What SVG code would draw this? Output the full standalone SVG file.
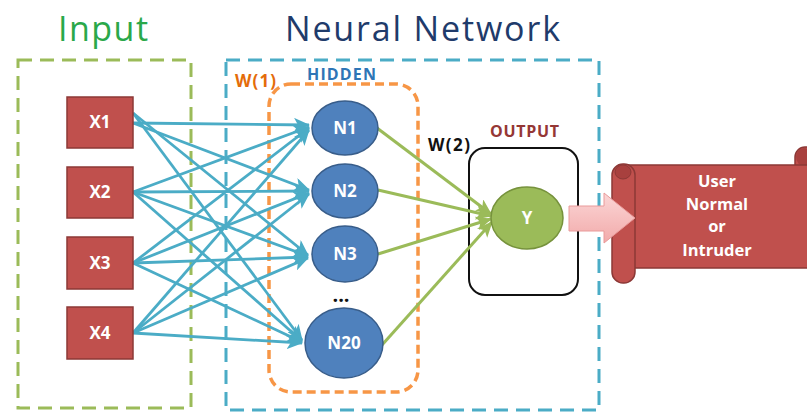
<svg xmlns="http://www.w3.org/2000/svg" width="807" height="412" viewBox="0 0 807 412">
  <style>
    .title { font-family: "Open Sans", "Liberation Sans", sans-serif; font-size: 34px; }
    .lbl { font-family: "Open Sans", "Liberation Sans", sans-serif; font-weight: bold; }
    .xbox { fill: #c0504d; stroke: #8c3836; stroke-width: 1.5; }
    .hnode { fill: #4f81bd; stroke: #385d8a; stroke-width: 1.5; }
    .wtxt { fill: #ffffff; font-size: 17px; text-anchor: middle; }
    .w1 { stroke: #4bacc6; stroke-width: 2.8; fill: none; marker-end: url(#headBlue); }
    .w2 { stroke: #9bbb59; stroke-width: 3; fill: none; marker-end: url(#headGreen); }
    .scroll-txt { fill: #ffffff; font-size: 16.5px; text-anchor: middle; }
  </style>
  <defs>
    <marker id="headBlue" markerUnits="userSpaceOnUse" markerWidth="16" markerHeight="14" refX="15" refY="7" orient="auto">
      <path d="M0,0 L16,7 L0,14 L4,7 Z" fill="#4bacc6"/>
    </marker>
    <marker id="headGreen" markerUnits="userSpaceOnUse" markerWidth="16" markerHeight="14" refX="15" refY="7" orient="auto">
      <path d="M0,0 L16,7 L0,14 L4,7 Z" fill="#9bbb59"/>
    </marker>
    <linearGradient id="pinkFill" x1="0" y1="0" x2="0" y2="1">
      <stop offset="0" stop-color="#fbd6d6"/>
      <stop offset="1" stop-color="#f2aaaa"/>
    </linearGradient>
  </defs>

  <rect width="807" height="412" fill="#ffffff"/>

  <!-- titles -->
  <text class="title" x="58" y="41" fill="#2aa84a" textLength="90">Input</text>
  <text class="title" x="285" y="41" fill="#1f3b6b" textLength="275">Neural Network</text>

  <!-- group frames -->
  <g id="input-frame">
    <rect x="18" y="60" width="173" height="348" fill="none" stroke="#9bbb59" stroke-width="3" stroke-dasharray="14 8"/>
  </g>
  <g id="network-frame">
    <rect x="226" y="60" width="373" height="350" fill="none" stroke="#4bacc6" stroke-width="3" stroke-dasharray="14 8"/>
  </g>
  <g id="hidden-frame">
    <rect x="269" y="84" width="149" height="308" rx="22" fill="none" stroke="#f79646" stroke-width="3.5" stroke-dasharray="9 5"/>
    <text class="lbl" x="235" y="87" font-size="17" fill="#e46c0a" textLength="41">W(1)</text>
    <text class="lbl" x="307" y="80" font-size="16" fill="#2e75b6" textLength="69">HIDDEN</text>
  </g>
  <g id="output-frame">
    <rect x="469" y="148" width="109" height="147" rx="16" fill="none" stroke="#111111" stroke-width="2"/>
    <text class="lbl" x="490" y="137" font-size="16" fill="#953735" textLength="69">OUTPUT</text>
    <text class="lbl" x="428" y="151" font-size="17" fill="#111111" textLength="42">W(2)</text>
  </g>

  <!-- weighted connections -->
  <g id="connectors">
    <line class="w1" x1="133" y1="123" x2="309" y2="125"/>
    <line class="w1" x1="133" y1="123" x2="309" y2="190"/>
    <line class="w1" x1="133" y1="113" x2="308" y2="255"/>
    <line class="w1" x1="133" y1="113" x2="302" y2="340"/>

    <line class="w1" x1="133" y1="192" x2="309" y2="127"/>
    <line class="w1" x1="133" y1="192" x2="309" y2="191"/>
    <line class="w1" x1="133" y1="192" x2="308" y2="256"/>
    <line class="w1" x1="133" y1="192" x2="302" y2="341"/>

    <line class="w1" x1="133" y1="263" x2="309" y2="128"/>
    <line class="w1" x1="133" y1="263" x2="309" y2="193"/>
    <line class="w1" x1="133" y1="263" x2="308" y2="257"/>
    <line class="w1" x1="133" y1="263" x2="302" y2="342"/>

    <line class="w1" x1="133" y1="333" x2="309" y2="130"/>
    <line class="w1" x1="133" y1="333" x2="309" y2="194"/>
    <line class="w1" x1="133" y1="333" x2="308" y2="258"/>
    <line class="w1" x1="133" y1="333" x2="302" y2="343"/>

    <line class="w2" x1="377" y1="128" x2="491" y2="214"/>
    <line class="w2" x1="378" y1="190" x2="491" y2="216"/>
    <line class="w2" x1="378" y1="254" x2="491" y2="219"/>
    <line class="w2" x1="382" y1="345" x2="492" y2="222"/>
  </g>

  <!-- input nodes -->
  <g id="x1"><rect class="xbox" x="67" y="97" width="66" height="51"/><text class="lbl wtxt" x="100" y="128">X1</text></g>
  <g id="x2"><rect class="xbox" x="67" y="167" width="66" height="51"/><text class="lbl wtxt" x="100" y="198">X2</text></g>
  <g id="x3"><rect class="xbox" x="67" y="237" width="66" height="52"/><text class="lbl wtxt" x="100" y="269">X3</text></g>
  <g id="x4"><rect class="xbox" x="67" y="307" width="66" height="52"/><text class="lbl wtxt" x="100" y="339">X4</text></g>

  <!-- hidden nodes -->
  <g id="n1"><ellipse class="hnode" cx="345" cy="128" rx="33" ry="27"/><text class="lbl wtxt" x="345" y="134">N1</text></g>
  <g id="n2"><ellipse class="hnode" cx="345" cy="191" rx="33" ry="27"/><text class="lbl wtxt" x="345" y="197">N2</text></g>
  <g id="n3"><ellipse class="hnode" cx="345" cy="254" rx="33" ry="28"/><text class="lbl wtxt" x="345" y="260">N3</text></g>
  <text class="lbl" x="341" y="302" font-size="20" fill="#111111" text-anchor="middle">...</text>
  <g id="n20"><ellipse class="hnode" cx="344" cy="343" rx="39" ry="35"/><text class="lbl wtxt" x="344" y="349">N20</text></g>

  <!-- output node -->
  <g id="y">
    <ellipse cx="527" cy="218" rx="36" ry="31" fill="#9bbb59" stroke="#76923c" stroke-width="1.5"/>
    <text class="lbl wtxt" x="527" y="224" font-size="16">Y</text>
  </g>

  <!-- result scroll -->
  <g id="result">
    <rect x="795" y="147" width="24" height="40" rx="10" fill="#c0504d" stroke="#8c3836" stroke-width="1.5"/>
    <ellipse cx="804" cy="157" rx="8" ry="9" fill="#a8403e"/>
    <rect x="622" y="165" width="190" height="103" fill="#c0504d" stroke="#8c3836" stroke-width="1.5"/>
    <rect x="612" y="164" width="23" height="119" rx="11" fill="#c0504d" stroke="#8c3836" stroke-width="1.5"/>
    <ellipse cx="623" cy="172" rx="8" ry="7" fill="#a8403e" stroke="#8c3836" stroke-width="1"/>
    <text class="lbl scroll-txt" x="717" y="187">User</text>
    <text class="lbl scroll-txt" x="717" y="210">Normal</text>
    <text class="lbl scroll-txt" x="717" y="232">or</text>
    <text class="lbl scroll-txt" x="717" y="256">Intruder</text>
  </g>

  <!-- result arrow -->
  <g id="result-arrow">
    <path d="M569,206 L604,206 L604,193 L635,218 L604,243 L604,231 L569,231 Z" fill="url(#pinkFill)" stroke="#e99a9a" stroke-width="1"/>
  </g>
</svg>
